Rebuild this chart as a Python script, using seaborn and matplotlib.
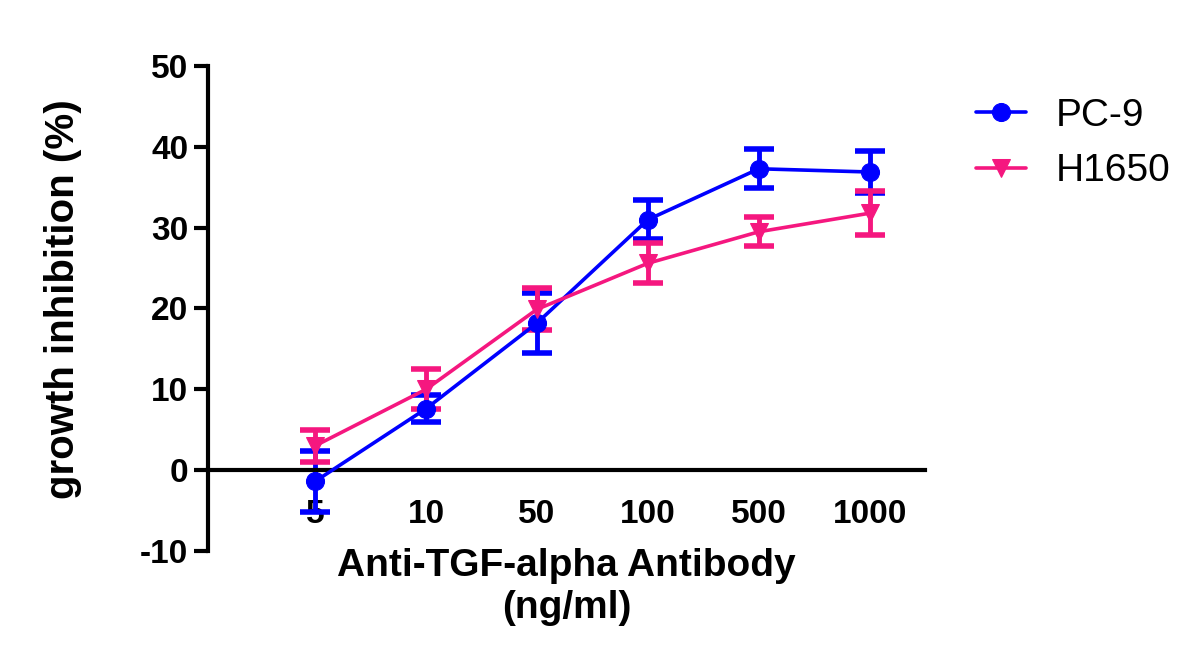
import matplotlib
matplotlib.use("Agg")
import matplotlib.pyplot as plt
import seaborn as sns
import pandas as pd
import numpy as np

doses = ["5", "10", "50", "100", "500", "1000"]
pc9_mean = [-1.4, 7.6, 18.2, 31.0, 37.3, 36.9]
pc9_err = [3.8, 1.7, 3.7, 2.4, 2.4, 2.6]
h1650_mean = [3.0, 10.0, 19.9, 25.6, 29.5, 31.8]
h1650_err = [2.0, 2.5, 2.6, 2.5, 1.8, 2.7]
series = ["PC-9", "H1650"]
colors = {"PC-9": "#0000FF", "H1650": "#F5177F"}
markers = {"PC-9": "o", "H1650": "v"}

pos = list(range(len(doses)))
df = pd.DataFrame({
    "pos": pos * 2,
    "value": pc9_mean + h1650_mean,
    "err": pc9_err + h1650_err,
    "line": ["PC-9"] * 6 + ["H1650"] * 6,
})

sns.set_style("ticks")
plt.rcParams["font.family"] = ["Liberation Sans", "DejaVu Sans"]
plt.rcParams["axes.unicode_minus"] = False
plt.rcParams["text.color"] = "black"
plt.rcParams["axes.labelcolor"] = "black"
plt.rcParams["xtick.color"] = "black"
plt.rcParams["ytick.color"] = "black"
plt.rcParams["axes.edgecolor"] = "black"

fig = plt.figure(figsize=(12, 6.62), dpi=100)
ax = fig.add_axes([0.173, 0.168, 0.598, 0.732])

for name in series:
    sub = df[df["line"] == name]
    ax.errorbar(sub["pos"], sub["value"], yerr=sub["err"], fmt="none",
                ecolor=colors[name], elinewidth=3.5, capsize=11, capthick=4, zorder=2)
    sns.lineplot(data=sub, x="pos", y="value", color=colors[name], marker=markers[name],
                 markersize=13, markeredgecolor=colors[name], linewidth=2.6,
                 label=name, ax=ax, zorder=3)

ax.set_xlim(-0.97, 5.5)
ax.set_ylim(-10, 50)
ax.set_yticks([-10, 0, 10, 20, 30, 40, 50])
ax.set_xticks(pos)
ax.set_xticklabels(doses)

for s in ["top", "right"]:
    ax.spines[s].set_visible(False)
ax.spines["bottom"].set_position(("data", 0))
ax.spines["left"].set_linewidth(3)
ax.spines["bottom"].set_linewidth(3)

ax.tick_params(axis="y", length=10, width=3, labelsize=24, pad=4, colors="black")
ax.tick_params(axis="x", length=0, labelsize=24, pad=21, colors="black")
for lab in ax.get_xticklabels() + ax.get_yticklabels():
    lab.set_fontweight("bold")

ax.set_xlabel("Anti-TGF-alpha Antibody\n(ng/ml)", fontsize=28, fontweight="bold",
              color="black", linespacing=1.2)
ax.xaxis.set_label_coords(0.5, 0.005)
ax.set_ylabel("growth inhibition (%)", fontsize=29, fontweight="bold", color="black")
ax.yaxis.set_label_coords(-0.175, 0.52)

leg = ax.legend(loc="upper left", bbox_to_anchor=(0.784, 0.905), bbox_transform=fig.transFigure,
                frameon=False, fontsize=28, handlelength=1.3, handletextpad=0.75,
                labelspacing=0.5)

fig.savefig("out.png", dpi=100)
